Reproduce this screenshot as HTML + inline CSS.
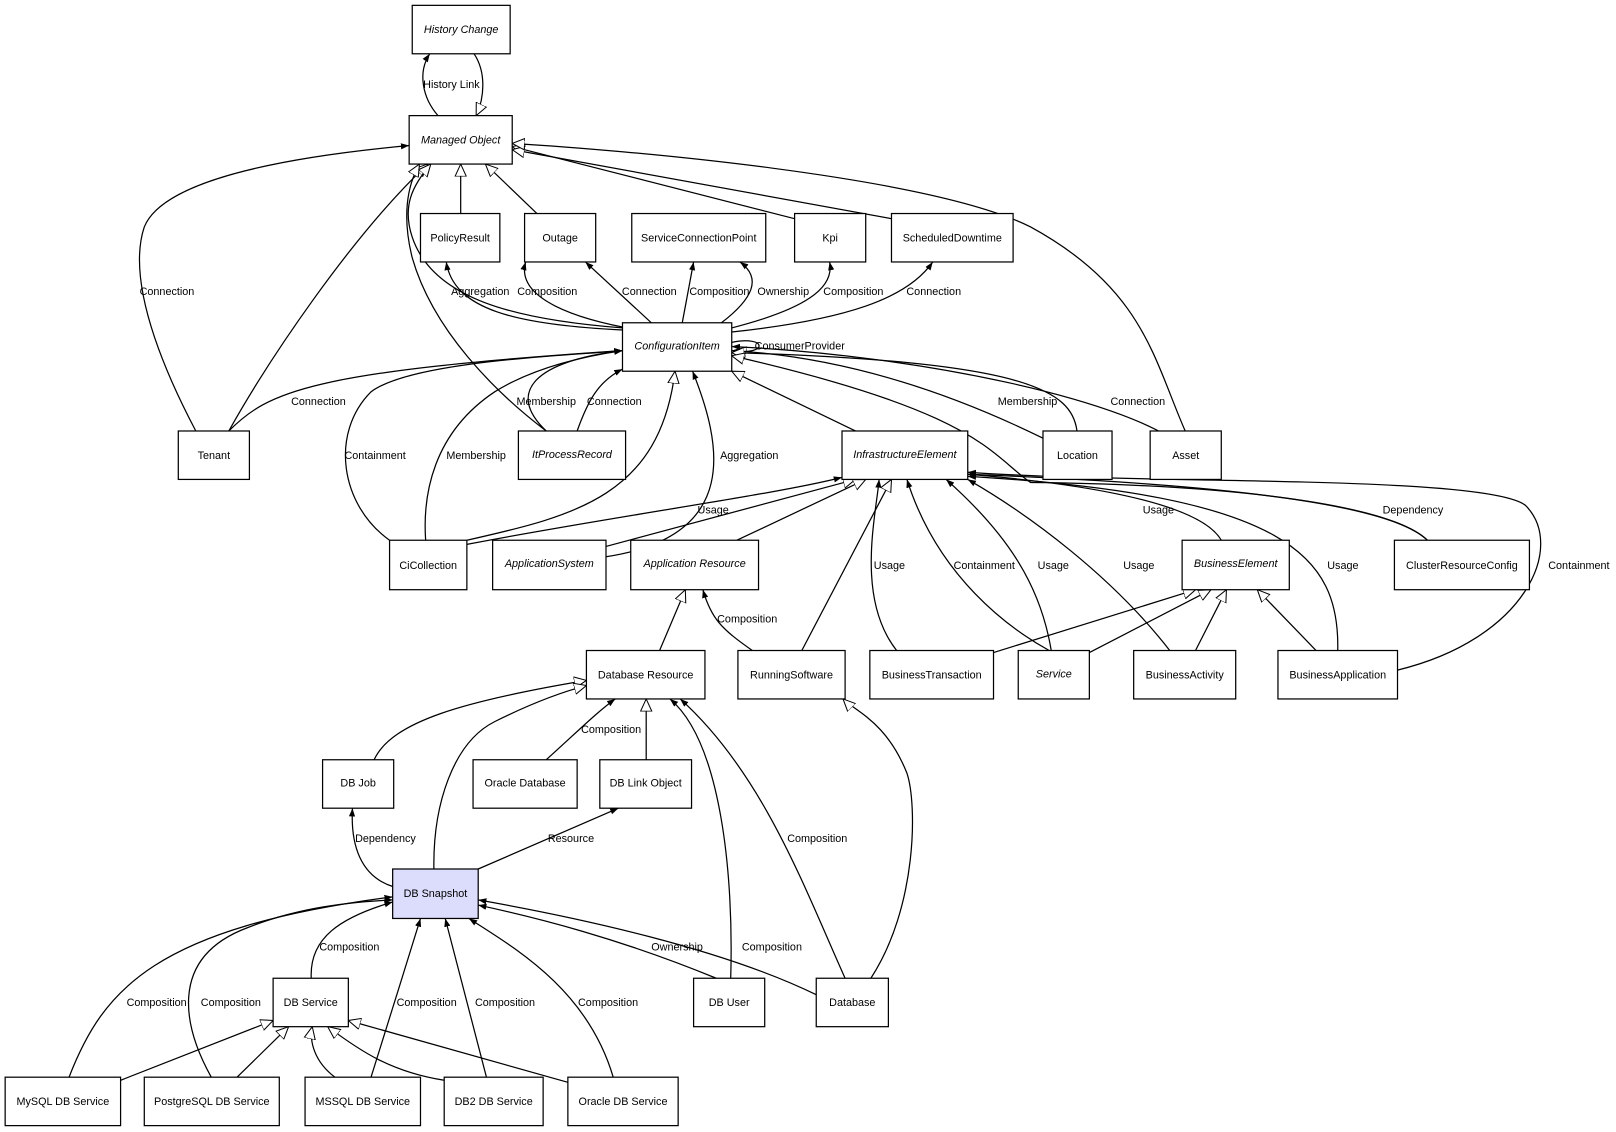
<!DOCTYPE html>
<html><head><meta charset="utf-8"><style>
html,body{margin:0;padding:0;background:#fff;}
svg{display:block;}
text{font-family:"Liberation Sans",Arial,sans-serif;font-size:10.5px;fill:#000;}
.n{fill:#fff;stroke:#000;stroke-width:1.2;}
.e{fill:none;stroke:#000;stroke-width:1.2;}
.f{marker-end:url(#fa);}
.h{marker-end:url(#ha);}
.i{font-style:italic;}
</style></head><body>
<svg width="1616" height="1132" viewBox="0 0 1568 1098" xmlns="http://www.w3.org/2000/svg">
<defs>
<marker id="fa" markerWidth="9" markerHeight="8" refX="8" refY="4" orient="auto" markerUnits="userSpaceOnUse"><path d="M0,1 L8,4 L0,7 Z" fill="#000"/></marker>
<marker id="ha" markerWidth="14" markerHeight="12" refX="12" refY="6" orient="auto" markerUnits="userSpaceOnUse"><path d="M0,0.5 L12,6 L0,11.5 Z" fill="#fff" stroke="#000" stroke-width="1"/></marker>
</defs>
<g class="e">
<path class="f" d="M425,112 C410,95 405,70 417,52"/>
<path class="h" d="M460,52 C472,70 470,95 462,112"/>
<path class="h" d="M447,207 L447,159"/>
<path class="h" d="M521,207 L471,159"/>
<path class="h" d="M771,212 L497,142"/>
<path class="h" d="M865,212 L497,145"/>
<path class="h" d="M1150,418 C1120,350 1110,280 1000,220 C900,170 600,145 497,139"/>
<path class="f" d="M190,418 C170,380 120,280 140,220 C160,170 300,150 397,141"/>
<path class="h" d="M222,418 C260,350 340,230 415,159"/>
<path class="h" d="M530,418 C480,380 420,320 400,250 C390,210 395,180 407,159"/>
<path class="h" d="M604,318 C500,310 420,290 400,230 C390,200 400,180 418,159"/>
<path class="f" d="M604,320 C500,315 440,300 433,254"/>
<path class="f" d="M620,320 C560,310 500,290 510,254"/>
<path class="f" d="M632,313 L568,254"/>
<path class="f" d="M662,313 L673,254"/>
<path class="f" d="M700,313 C730,290 740,270 718,254"/>
<path class="f" d="M710,318 C780,300 810,280 805,254"/>
<path class="f" d="M710,322 C820,310 880,290 905,254"/>
<path class="h" d="M710,332 C745,325 745,345 712,340"/>
<path class="f" d="M222,418 C260,380 300,360 604,340"/>
<path class="f" d="M378,524 C330,490 320,420 360,380 C400,350 550,345 604,340"/>
<path class="f" d="M413,524 C410,480 420,420 480,380 C520,355 570,345 604,340"/>
<path class="h" d="M453,524 C560,500 640,480 655,360"/>
<path class="f" d="M530,418 C490,380 520,350 604,340"/>
<path class="f" d="M560,418 C570,390 580,370 604,358"/>
<path class="f" d="M588,540 C720,520 700,430 672,360"/>
<path class="h" d="M830,418 L710,360"/>
<path class="f" d="M1012,425 C900,370 800,345 710,340"/>
<path class="h" d="M1045,418 C1040,380 1000,350 710,342"/>
<path class="f" d="M1150,435 C1100,390 900,345 710,336"/>
<path class="h" d="M1385,524 C1350,490 1200,470 1000,468 C960,440 950,400 710,345"/>
<path class="f" d="M1385,524 C1350,490 1200,470 939,460"/>
<path class="h" d="M588,530 L830,465"/>
<path class="f" d="M453,528 C600,500 750,480 817,463"/>
<path class="h" d="M715,524 L840,465"/>
<path class="h" d="M778,631 L865,465"/>
<path class="f" d="M870,631 C830,580 850,500 853,465"/>
<path class="f" d="M1018,631 C980,610 910,560 880,465"/>
<path class="f" d="M1020,631 C1010,570 980,520 918,465"/>
<path class="f" d="M1135,631 C1080,560 1000,500 939,465"/>
<path class="f" d="M1298,631 C1300,540 1250,480 939,462"/>
<path class="f" d="M1356,650 C1480,620 1520,530 1480,490 C1440,460 1100,470 939,458"/>
<path class="f" d="M1185,524 C1160,480 1000,465 939,460"/>
<path class="h" d="M964,633 L1160,572"/>
<path class="h" d="M1057,633 L1175,572"/>
<path class="h" d="M1160,631 L1190,572"/>
<path class="h" d="M1277,631 L1220,572"/>
<path class="h" d="M640,631 L665,572"/>
<path class="f" d="M730,631 C700,610 690,600 682,572"/>
<path class="h" d="M363,737 C380,700 450,680 569,660"/>
<path class="h" d="M421,843 C420,780 440,720 480,700 C520,680 550,670 569,665"/>
<path class="f" d="M530,737 C560,710 580,690 597,678"/>
<path class="h" d="M627,737 L627,678"/>
<path class="f" d="M709,949 C712,850 700,720 650,678"/>
<path class="f" d="M820,949 C780,860 740,750 660,678"/>
<path class="h" d="M845,949 C890,880 890,780 880,750 C860,700 830,690 818,678"/>
<path class="f" d="M381,860 C350,850 340,820 342,784"/>
<path class="f" d="M464,843 L600,784"/>
<path class="f" d="M302,949 C300,910 330,890 381,875"/>
<path class="f" d="M67,1045 C100,960 150,900 381,870"/>
<path class="f" d="M205,1045 C180,1000 160,930 240,900 C290,880 340,875 381,873"/>
<path class="f" d="M360,1045 C380,980 390,950 408,891"/>
<path class="f" d="M472,1045 L432,891"/>
<path class="f" d="M595,1045 C570,960 500,920 455,891"/>
<path class="f" d="M695,949 C600,910 520,890 464,878"/>
<path class="f" d="M792,965 C700,920 560,890 464,873"/>
<path class="h" d="M117,1048 L265,990"/>
<path class="h" d="M230,1045 L280,996"/>
<path class="h" d="M325,1045 C305,1030 300,1010 303,996"/>
<path class="h" d="M431,1048 C380,1040 350,1020 318,996"/>
<path class="h" d="M551,1050 L338,990"/>
</g>
<g>
<rect class="n" x="400" y="5" width="95" height="47"/><text class="i" x="447.5" y="32" text-anchor="middle">History Change</text>
<rect class="n" x="397" y="112" width="100" height="47"/><text class="i" x="447" y="139" text-anchor="middle">Managed Object</text>
<rect class="n" x="408" y="207" width="77" height="47"/><text x="446.5" y="234" text-anchor="middle">PolicyResult</text>
<rect class="n" x="509" y="207" width="69" height="47"/><text x="543.5" y="234" text-anchor="middle">Outage</text>
<rect class="n" x="613" y="207" width="130" height="47"/><text x="678" y="234" text-anchor="middle">ServiceConnectionPoint</text>
<rect class="n" x="771" y="207" width="69" height="47"/><text x="805.5" y="234" text-anchor="middle">Kpi</text>
<rect class="n" x="865" y="207" width="118" height="47"/><text x="924" y="234" text-anchor="middle">ScheduledDowntime</text>
<rect class="n" x="604" y="313" width="106" height="47"/><text class="i" x="657" y="339" text-anchor="middle">ConfigurationItem</text>
<rect class="n" x="173" y="418" width="69" height="47"/><text x="207.5" y="445" text-anchor="middle">Tenant</text>
<rect class="n" x="503" y="418" width="104" height="47"/><text class="i" x="555" y="444" text-anchor="middle">ItProcessRecord</text>
<rect class="n" x="817" y="418" width="122" height="47"/><text class="i" x="878" y="444" text-anchor="middle">InfrastructureElement</text>
<rect class="n" x="1012" y="418" width="67" height="47"/><text x="1045.5" y="445" text-anchor="middle">Location</text>
<rect class="n" x="1116" y="418" width="69" height="47"/><text x="1150.5" y="445" text-anchor="middle">Asset</text>
<rect class="n" x="378" y="524" width="75" height="48"/><text x="415.5" y="552" text-anchor="middle">CiCollection</text>
<rect class="n" x="478" y="524" width="110" height="48"/><text class="i" x="533" y="550" text-anchor="middle">ApplicationSystem</text>
<rect class="n" x="612" y="524" width="124" height="48"/><text class="i" x="674" y="550" text-anchor="middle">Application Resource</text>
<rect class="n" x="1147" y="524" width="104" height="48"/><text class="i" x="1199" y="550" text-anchor="middle">BusinessElement</text>
<rect class="n" x="1353" y="524" width="131" height="48"/><text x="1418.5" y="552" text-anchor="middle">ClusterResourceConfig</text>
<rect class="n" x="569" y="631" width="115" height="47"/><text x="626.5" y="658" text-anchor="middle">Database Resource</text>
<rect class="n" x="716" y="631" width="104" height="47"/><text x="768" y="658" text-anchor="middle">RunningSoftware</text>
<rect class="n" x="844" y="631" width="120" height="47"/><text x="904" y="658" text-anchor="middle">BusinessTransaction</text>
<rect class="n" x="988" y="631" width="69" height="47"/><text class="i" x="1022.5" y="657" text-anchor="middle">Service</text>
<rect class="n" x="1100" y="631" width="99" height="47"/><text x="1149.5" y="658" text-anchor="middle">BusinessActivity</text>
<rect class="n" x="1240" y="631" width="116" height="47"/><text x="1298" y="658" text-anchor="middle">BusinessApplication</text>
<rect class="n" x="313" y="737" width="69" height="47"/><text x="347.5" y="763" text-anchor="middle">DB Job</text>
<rect class="n" x="459" y="737" width="101" height="47"/><text x="509.5" y="763" text-anchor="middle">Oracle Database</text>
<rect class="n" x="582" y="737" width="89" height="47"/><text x="626.5" y="763" text-anchor="middle">DB Link Object</text>
<rect class="n" x="381" y="843" width="83" height="48" style="fill:#dcdcfc"/><text x="422.5" y="870" text-anchor="middle">DB Snapshot</text>
<rect class="n" x="265" y="949" width="73" height="47"/><text x="301.5" y="976" text-anchor="middle">DB Service</text>
<rect class="n" x="673" y="949" width="69" height="47"/><text x="707.5" y="976" text-anchor="middle">DB User</text>
<rect class="n" x="792" y="949" width="70" height="47"/><text x="827" y="976" text-anchor="middle">Database</text>
<rect class="n" x="5" y="1045" width="112" height="47"/><text x="61" y="1072" text-anchor="middle">MySQL DB Service</text>
<rect class="n" x="140" y="1045" width="131" height="47"/><text x="205.5" y="1072" text-anchor="middle">PostgreSQL DB Service</text>
<rect class="n" x="296" y="1045" width="112" height="47"/><text x="352" y="1072" text-anchor="middle">MSSQL DB Service</text>
<rect class="n" x="431" y="1045" width="96" height="47"/><text x="479" y="1072" text-anchor="middle">DB2 DB Service</text>
<rect class="n" x="551" y="1045" width="107" height="47"/><text x="604.5" y="1072" text-anchor="middle">Oracle DB Service</text>
</g>
<g text-anchor="middle">
<text x="438" y="85">History Link</text>
<text x="162" y="286">Connection</text>
<text x="466" y="286">Aggregation</text>
<text x="531" y="286">Composition</text>
<text x="630" y="286">Connection</text>
<text x="698" y="286">Composition</text>
<text x="760" y="286">Ownership</text>
<text x="828" y="286">Composition</text>
<text x="906" y="286">Connection</text>
<text x="776" y="339">ConsumerProvider</text>
<text x="309" y="393">Connection</text>
<text x="530" y="393">Membership</text>
<text x="596" y="393">Connection</text>
<text x="997" y="393">Membership</text>
<text x="1104" y="393">Connection</text>
<text x="364" y="445">Containment</text>
<text x="462" y="445">Membership</text>
<text x="727" y="445">Aggregation</text>
<text x="692" y="498">Usage</text>
<text x="1124" y="498">Usage</text>
<text x="1371" y="498">Dependency</text>
<text x="863" y="552">Usage</text>
<text x="955" y="552">Containment</text>
<text x="1022" y="552">Usage</text>
<text x="1105" y="552">Usage</text>
<text x="1303" y="552">Usage</text>
<text x="1532" y="552">Containment</text>
<text x="725" y="604">Composition</text>
<text x="593" y="711">Composition</text>
<text x="374" y="817">Dependency</text>
<text x="554" y="817">Resource</text>
<text x="793" y="817">Composition</text>
<text x="339" y="922">Composition</text>
<text x="657" y="922">Ownership</text>
<text x="749" y="922">Composition</text>
<text x="152" y="976">Composition</text>
<text x="224" y="976">Composition</text>
<text x="414" y="976">Composition</text>
<text x="490" y="976">Composition</text>
<text x="590" y="976">Composition</text>
</g>
</svg>
</body></html>
